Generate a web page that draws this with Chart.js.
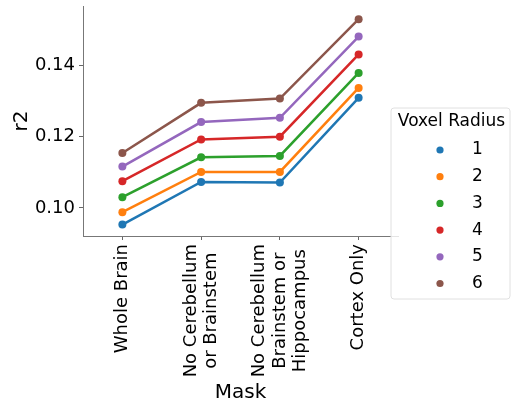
<!DOCTYPE html>
<html>
<head>
<meta charset="utf-8">
<script src="https://cdn.jsdelivr.net/npm/chart.js@4"></script>
<style>
  html, body { margin: 0; padding: 0; background: #fff; }
  #wrap { width: 511px; height: 405px; }
</style>
</head>
<body>
<div id="wrap"><canvas id="chart" width="511" height="405"></canvas></div>
<script>
// Mask categories (each entry is a list of label lines)
const categories = [
  ['Whole Brain'],
  ['No Cerebellum', 'or Brainstem'],
  ['No Cerebellum', 'Brainstem or', 'Hippocampus'],
  ['Cortex Only']
];

// r2 per voxel radius
const radius1 = [0.0953, 0.1073, 0.1071, 0.1309];
const radius2 = [0.0988, 0.1101, 0.1101, 0.1337];
const radius3 = [0.1030, 0.1142, 0.1146, 0.1379];
const radius4 = [0.1075, 0.1192, 0.1200, 0.1431];
const radius5 = [0.1116, 0.1241, 0.1253, 0.1481];
const radius6 = [0.1154, 0.1295, 0.1307, 0.1530];

const seriesNames = ['1', '2', '3', '4', '5', '6'];
const seriesValues = [radius1, radius2, radius3, radius4, radius5, radius6];
const palette = ['#1f77b4', '#ff7f0e', '#2ca02c', '#d62728', '#9467bd', '#8c564b'];

const yTicks = [0.10, 0.12, 0.14];
const yMin = 0.0921, yMax = 0.1567;

const FONT = "'DejaVu Sans', 'Liberation Sans', sans-serif";

// Rotated, centre-aligned multi-line category labels
const xLabelPlugin = {
  id: 'xLabels',
  afterDraw(chart) {
    const ctx = chart.ctx;
    const xs = chart.scales.x;
    const y0 = xs.top + 8;
    const lh = 20.5;
    ctx.save();
    ctx.font = '18px ' + FONT;
    ctx.fillStyle = '#000';
    ctx.textAlign = 'center';
    ctx.textBaseline = 'middle';
    categories.forEach((lines, i) => {
      const px = xs.getPixelForValue(i);
      const w = Math.max(...lines.map(l => ctx.measureText(l).width));
      ctx.save();
      ctx.translate(px, y0);
      ctx.rotate(-Math.PI / 2);
      lines.forEach((line, j) => {
        ctx.fillText(line, -w / 2, (j - (lines.length - 1) / 2) * lh);
      });
      ctx.restore();
    });
    ctx.restore();
  }
};

// Legend box with title, drawn over the plot
const legendPlugin = {
  id: 'radiusLegend',
  afterDraw(chart) {
    const ctx = chart.ctx;
    const bx = 391, by = 108, bw = 119, bh = 191, r = 3;
    ctx.save();
    ctx.beginPath();
    ctx.moveTo(bx + r, by);
    ctx.lineTo(bx + bw - r, by);
    ctx.arcTo(bx + bw, by, bx + bw, by + r, r);
    ctx.lineTo(bx + bw, by + bh - r);
    ctx.arcTo(bx + bw, by + bh, bx + bw - r, by + bh, r);
    ctx.lineTo(bx + r, by + bh);
    ctx.arcTo(bx, by + bh, bx, by + bh - r, r);
    ctx.lineTo(bx, by + r);
    ctx.arcTo(bx, by, bx + r, by, r);
    ctx.closePath();
    ctx.fillStyle = 'rgba(255,255,255,0.8)';
    ctx.fill();
    ctx.strokeStyle = '#e0e0e0';
    ctx.lineWidth = 1;
    ctx.stroke();

    ctx.fillStyle = '#000';
    ctx.font = '17px ' + FONT;
    ctx.textAlign = 'center';
    ctx.textBaseline = 'middle';
    ctx.fillText('Voxel Radius', bx + bw / 2 + 1, 122);

    chart.data.datasets.forEach((ds, i) => {
      const yy = 150 + i * 26.7;
      ctx.beginPath();
      ctx.arc(440, yy, 3.6, 0, Math.PI * 2);
      ctx.fillStyle = ds.borderColor;
      ctx.fill();
      ctx.fillStyle = '#000';
      ctx.textAlign = 'left';
      ctx.fillText(ds.label, 472, yy);
    });
    ctx.restore();
  }
};

new Chart(document.getElementById('chart'), {
  type: 'line',
  data: {
    labels: categories.map(c => c.join(' ')),
    datasets: seriesValues.map((vals, i) => ({
      label: seriesNames[i],
      data: vals,
      borderColor: palette[i],
      backgroundColor: palette[i],
      pointBackgroundColor: palette[i],
      pointBorderWidth: 0,
      pointRadius: 4,
      borderWidth: 2.5,
      tension: 0,
      fill: false
    }))
  },
  options: {
    responsive: false,
    animation: false,
    events: [],
    layout: { padding: { left: 0, right: 113, top: 6, bottom: 0 } },
    plugins: {
      legend: { display: false },
      tooltip: { enabled: false }
    },
    scales: {
      x: {
        type: 'category',
        offset: true,
        grid: { display: true, drawOnChartArea: false, drawTicks: true, tickLength: 4, tickColor: '#666', offset: false },
        border: { display: true, color: '#777', width: 1 },
        ticks: { display: false },
        title: {
          display: true,
          text: 'Mask',
          color: '#000',
          font: { family: FONT, size: 20 },
          padding: { top: 2, bottom: 0 }
        },
        afterFit(scale) {
          scale.height = 169;
          scale.paddingLeft = 0;
          scale.paddingRight = 0;
        }
      },
      y: {
        type: 'linear',
        min: yMin,
        max: yMax,
        afterBuildTicks(scale) {
          scale.ticks = yTicks.map(v => ({ value: v }));
        },
        grid: { display: true, drawOnChartArea: false, drawTicks: true, tickLength: 4, tickColor: '#666' },
        border: { display: true, color: '#777', width: 1 },
        ticks: {
          color: '#000',
          padding: 4,
          font: { family: FONT, size: 18 },
          callback: v => Number(v).toFixed(2)
        },
        title: {
          display: true,
          text: 'r2',
          color: '#000',
          font: { family: FONT, size: 20 },
          padding: { top: 10, bottom: 0 }
        },
        afterFit(scale) {
          scale.width = 83;
          scale.paddingTop = 0;
          scale.paddingBottom = 0;
        }
      }
    }
  },
  plugins: [xLabelPlugin, legendPlugin]
});
</script>
</body>
</html>
